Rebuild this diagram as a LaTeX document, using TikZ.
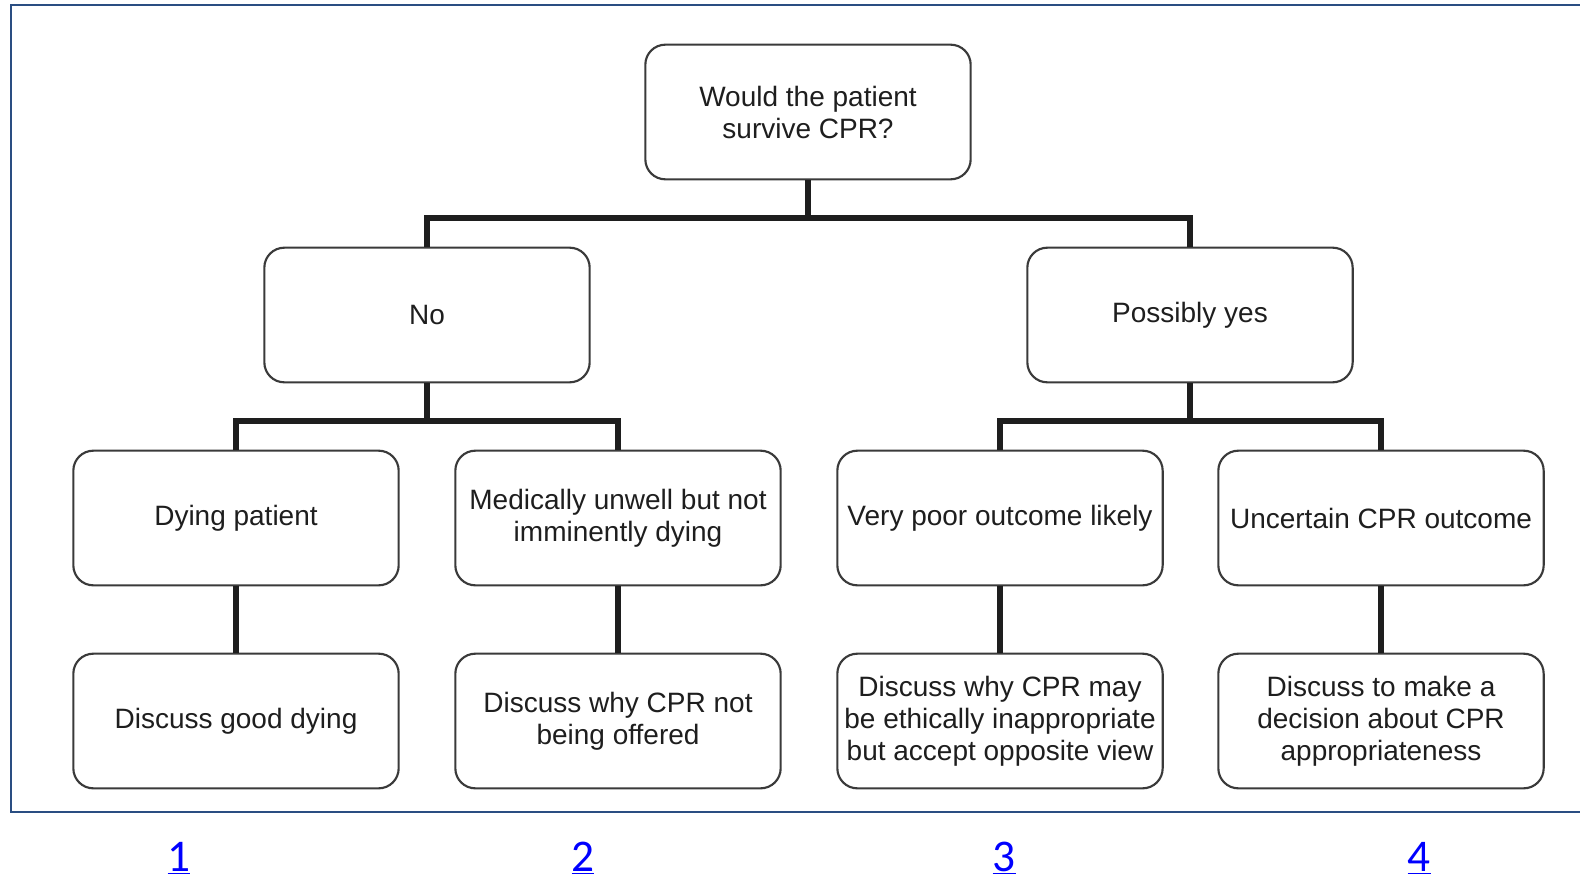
\documentclass[tikz,border=0pt]{standalone}
\usepackage{fontspec}
\setmainfont{Liberation Sans}
\newfontfamily\linkfont{Carlito}
\usepackage{tikz}
\usetikzlibrary{positioning,calc}
\definecolor{Ink}{HTML}{1E1E1E}
\definecolor{Frame}{HTML}{2A4E82}
\definecolor{Link}{HTML}{0000FF}
\definecolor{Edge}{HTML}{3A3A3A}
\tikzset{
  box/.style={rectangle,rounded corners=15pt,draw=Edge,line width=1.6pt,fill=white,
    minimum width=244pt,minimum height=101pt,align=center,text=Ink,
    font=\fontsize{21}{24}\selectfont,inner sep=1pt},
  bus/.style={draw=Ink,line width=3.8pt},
  frm/.style={draw=Frame,line width=1.6pt},
  lnk/.style={text=Link,font=\linkfont\fontsize{34}{40}\selectfont}
}
\begin{document}
\begin{tikzpicture}[x=0.75pt,y=-0.75pt]
    \useasboundingbox (0,0) rectangle (1580,881);
    \draw[frm] (1580,5) -- (11,5) -- (11,812) -- (1580,812);
    \node[box] (q) at (808,112) {Would the patient\\survive CPR?};
    \node[box] (no) at (427,315) {No};
    \node[box] (yes) at (1190,315) {Possibly yes};
    \node[box] (dying) at (236,518) {Dying patient};
    \node[box] (unwell) at (618,518) {Medically unwell but not\\imminently dying};
    \node[box] (poor) at (1000,518) {Very poor outcome likely};
    \node[box] (unsure) at (1381,518) {Uncertain CPR outcome};
    \node[box] (good) at (236,721) {Discuss good dying};
    \node[box] (why) at (618,721) {Discuss why CPR not\\being offered};
    \node[box] (ethic) at (1000,721) {Discuss why CPR may\\be ethically inappropriate\\but accept opposite view};
    \node[box] (decide) at (1381,721) {Discuss to make a\\decision about CPR\\appropriateness};
    \draw[bus] (q.south) -- (q.south |- 0,218) -| (no.north);
    \draw[bus] (q.south |- 0,218) -| (yes.north);
    \draw[bus] (no.south) -- (no.south |- 0,421) -| (dying.north);
    \draw[bus] (no.south |- 0,421) -| (unwell.north);
    \draw[bus] (yes.south) -- (yes.south |- 0,421) -| (poor.north);
    \draw[bus] (yes.south |- 0,421) -| (unsure.north);
    \draw[bus] (dying) -- (good);
    \draw[bus] (unwell) -- (why);
    \draw[bus] (poor) -- (ethic);
    \draw[bus] (unsure) -- (decide);
    \node[lnk] (n1) at (179,858) {\underline{1}};
    \node[lnk] (n2) at (583,858) {\underline{2}};
    \node[lnk] (n3) at (1004,858) {\underline{3}};
    \node[lnk] (n4) at (1419,858) {\underline{4}};
\end{tikzpicture}
\end{document}
